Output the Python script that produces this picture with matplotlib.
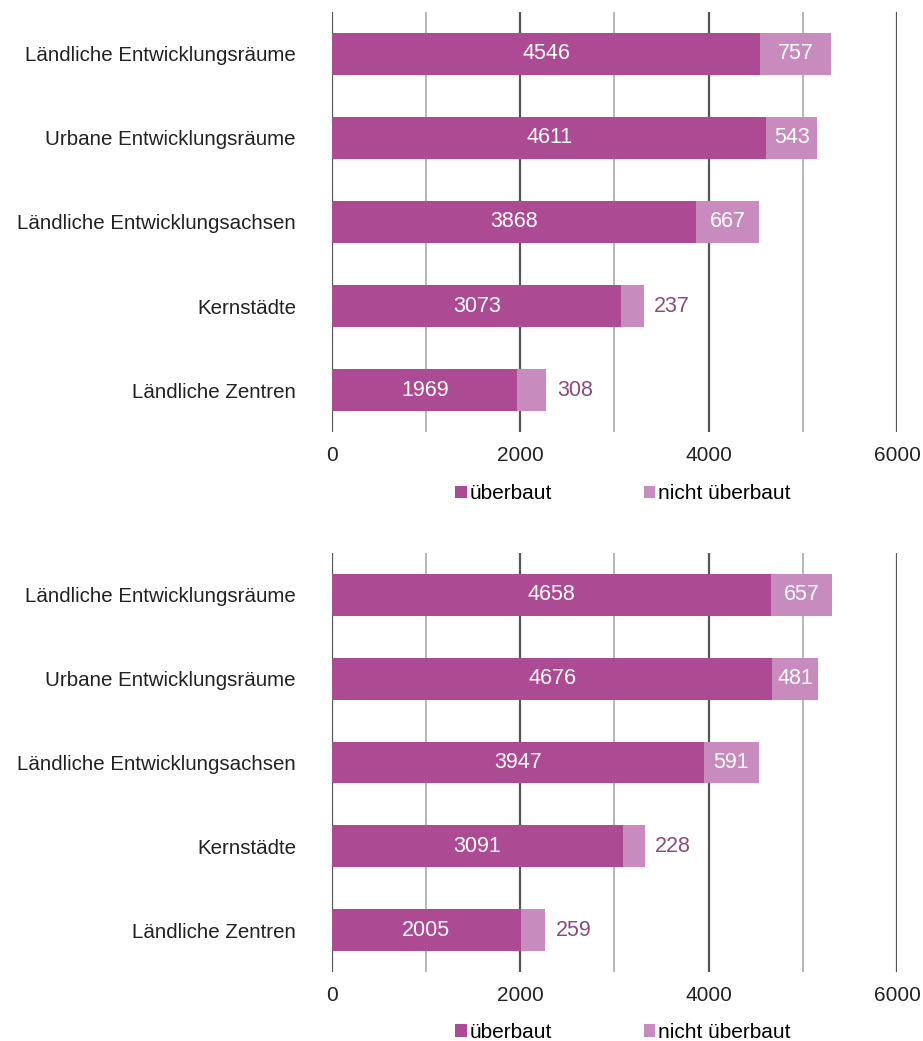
import numpy as np
import matplotlib.pyplot as plt

plt.rcParams['font.family'] = ['Liberation Sans', 'DejaVu Sans']

categories = ["Ländliche Entwicklungsräume", "Urbane Entwicklungsräume",
              "Ländliche Entwicklungsachsen", "Kernstädte", "Ländliche Zentren"]
ueberbaut_1 = [4546, 4611, 3868, 3073, 1969]
nicht_1 = [757, 543, 667, 237, 308]
ueberbaut_2 = [4658, 4676, 3947, 3091, 2005]
nicht_2 = [657, 481, 591, 228, 259]

dark = "#ad4a94"
light = "#c88bbd"
outtxt = "#8c4a7e"

fig = plt.figure(figsize=(9.23, 10.41), dpi=100)
ax1 = fig.add_axes([0.3597, 0.585, 0.6121, 0.4035])
ax2 = fig.add_axes([0.3597, 0.0663, 0.6121, 0.4025])


def draw(ax, a, b, leg_y):
    y = np.arange(len(categories))
    ax.barh(y, a, height=0.5, color=dark, label="überbaut", zorder=3)
    ax.barh(y, b, left=a, height=0.5, color=light, label="nicht überbaut", zorder=3)
    for i in range(len(y)):
        ax.text(a[i] / 2, y[i], str(a[i]), ha="center", va="center",
                color="white", fontsize=15.5, zorder=4)
        if b[i] > 400:
            ax.text(a[i] + b[i] / 2, y[i], str(b[i]), ha="center", va="center",
                    color="white", fontsize=15.5, zorder=4)
        else:
            ax.text(a[i] + b[i] + 110, y[i], str(b[i]), ha="left", va="center",
                    color=outtxt, fontsize=15.5, zorder=4)
    ax.set_xlim(0, 6000)
    ax.set_ylim(4.5, -0.5)
    ax.set_yticks(y)
    ax.set_yticklabels(categories, fontsize=14.8, color="#222222")
    ax.set_xticks([0, 2000, 4000, 6000])
    ax.set_xticks([1000, 3000, 5000], minor=True)
    ax.tick_params(axis="x", which="both", length=0, pad=10, labelsize=15,
                   labelcolor="#222222")
    ax.tick_params(axis="y", length=0, pad=26)
    ax.grid(axis="x", which="major", color="#555555", linewidth=1.6, zorder=0)
    ax.grid(axis="x", which="minor", color="#aaaaaa", linewidth=1.2, zorder=0)
    ax.grid(axis="y", visible=False)
    for s in ax.spines.values():
        s.set_visible(False)
    ax.legend(loc="upper center", bbox_to_anchor=(0.515, leg_y), ncol=2,
              frameon=False, fontsize=15, handlelength=0.55, handleheight=0.55,
              handletextpad=0.15, columnspacing=4.4, borderpad=0.2)


draw(ax1, ueberbaut_1, nicht_1, -0.09)
draw(ax2, ueberbaut_2, nicht_2, -0.086)

fig.savefig("out.png", dpi=100)
